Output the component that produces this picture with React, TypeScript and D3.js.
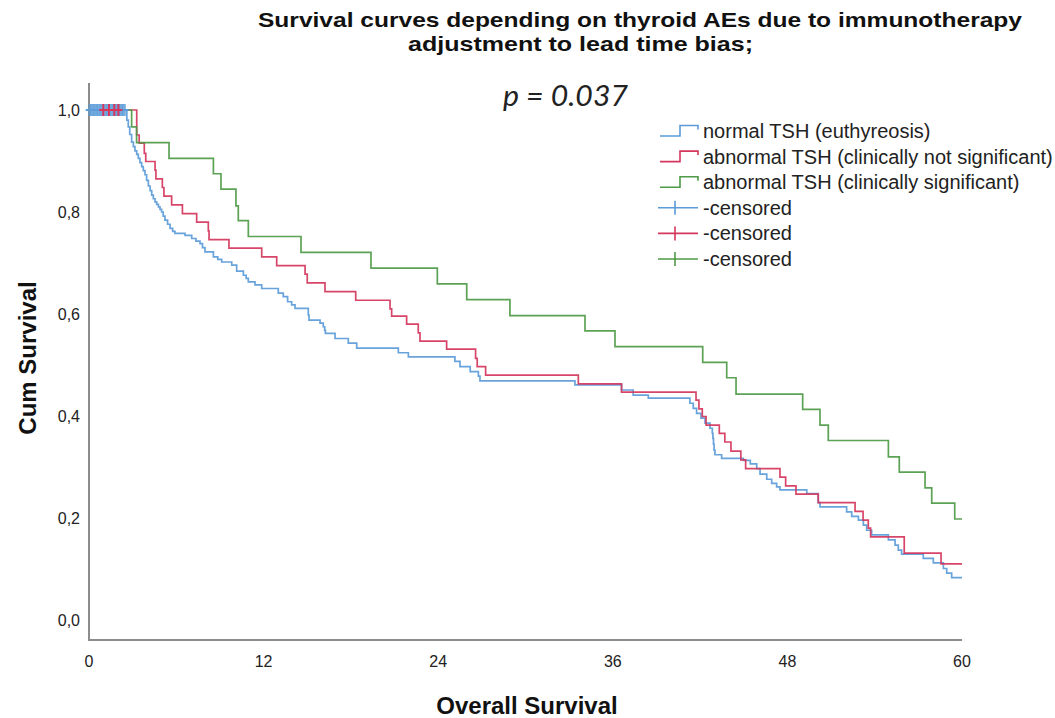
import React from "react";
import * as d3 from "d3";

// ---- Data ----
const END_TIME = 60;
const xTicks = [0, 12, 24, 36, 48, 60];
const yTicks = [0, 0.2, 0.4, 0.6, 0.8, 1.0];
const yTickLabels = ["0,0", "0,2", "0,4", "0,6", "0,8", "1,0"];

const seriesNames = [
  "normal TSH (euthyreosis)",
  "abnormal TSH (clinically not significant)",
  "abnormal TSH (clinically significant)",
];

// event times (months) and survival after each drop
const normalTimes = [2.6, 2.7, 2.8, 2.93, 3.05, 3.16, 3.28, 3.39, 3.5, 3.62, 3.73, 3.85, 3.96, 4.08, 4.2, 4.31, 4.42, 4.54, 4.65, 4.77, 4.88, 4.99, 5.1, 5.22, 5.4, 5.57, 5.75, 5.91, 6.6, 7.06, 7.35, 7.63, 7.8, 7.97, 8.55, 8.85, 9.12, 9.81, 10.15, 10.61, 10.8, 10.95, 11.41, 11.87, 13.01, 13.35, 13.65, 13.93, 14.16, 15.07, 15.12, 15.88, 16.1, 16.2, 16.25, 16.91, 17.82, 18.4, 21.26, 21.95, 25.15, 25.5, 26.2, 26.76, 26.87, 33.4, 36.6, 37.4, 38.44, 41.3, 41.53, 41.76, 42.06, 42.34, 42.68, 42.84, 42.88, 42.92, 42.96, 43.02, 43.48, 44.97, 45.45, 45.89, 46.12, 46.58, 46.92, 47.26, 47.49, 49.33, 50.12, 50.24, 52.07, 52.42, 52.88, 53.22, 53.45, 53.79, 54.94, 55.4, 55.62, 55.85, 57.34, 58.03, 58.72, 58.95, 59.29];
const normalSurv = [0.98, 0.967, 0.952, 0.937, 0.928, 0.92, 0.913, 0.905, 0.897, 0.889, 0.881, 0.873, 0.862, 0.851, 0.842, 0.833, 0.826, 0.82, 0.815, 0.81, 0.805, 0.8, 0.792, 0.784, 0.776, 0.768, 0.762, 0.758, 0.754, 0.748, 0.743, 0.738, 0.73, 0.722, 0.712, 0.707, 0.702, 0.696, 0.684, 0.676, 0.67, 0.663, 0.657, 0.65, 0.641, 0.634, 0.624, 0.618, 0.611, 0.598, 0.588, 0.582, 0.575, 0.568, 0.562, 0.552, 0.543, 0.533, 0.524, 0.516, 0.507, 0.497, 0.487, 0.478, 0.469, 0.461, 0.451, 0.441, 0.435, 0.425, 0.415, 0.405, 0.396, 0.386, 0.376, 0.366, 0.356, 0.345, 0.333, 0.324, 0.317, 0.313, 0.306, 0.297, 0.286, 0.276, 0.268, 0.261, 0.255, 0.248, 0.23, 0.222, 0.212, 0.203, 0.196, 0.186, 0.176, 0.167, 0.157, 0.147, 0.137, 0.129, 0.121, 0.112, 0.101, 0.092, 0.083];

const notSigTimes = [3.28, 3.45, 3.8, 3.9, 4.54, 4.6, 5.04, 5.15, 5.68, 6.42, 7.4, 8.2, 8.25, 9.62, 11.87, 12.9, 14.85, 15.0, 16.22, 18.33, 20.69, 20.8, 21.83, 22.63, 22.75, 24.58, 26.57, 26.68, 27.26, 33.63, 36.6, 41.72, 41.92, 42.15, 42.41, 43.32, 43.7, 44.12, 44.8, 45.13, 47.49, 47.88, 48.59, 50.12, 52.65, 53.2, 53.56, 53.72, 56.03, 58.56];
const notSigSurv = [0.951, 0.935, 0.915, 0.899, 0.882, 0.865, 0.848, 0.831, 0.814, 0.797, 0.78, 0.763, 0.746, 0.729, 0.712, 0.695, 0.678, 0.661, 0.644, 0.627, 0.61, 0.596, 0.58, 0.563, 0.547, 0.531, 0.513, 0.497, 0.48, 0.463, 0.447, 0.431, 0.414, 0.399, 0.382, 0.366, 0.349, 0.331, 0.314, 0.297, 0.28, 0.263, 0.247, 0.23, 0.213, 0.196, 0.18, 0.163, 0.131, 0.11];

const sigTimes = [2.93, 3.27, 5.5, 8.55, 9.07, 10.1, 10.26, 10.95, 14.57, 19.38, 23.94, 25.96, 28.93, 34.09, 36.15, 42.18, 43.83, 44.47, 49.05, 50.24, 50.81, 54.94, 55.69, 57.46, 57.92, 59.5];
const sigSurv = [0.967, 0.936, 0.905, 0.875, 0.845, 0.812, 0.783, 0.752, 0.721, 0.69, 0.659, 0.628, 0.597, 0.567, 0.536, 0.505, 0.475, 0.443, 0.413, 0.382, 0.352, 0.32, 0.29, 0.259, 0.229, 0.198];

// censored observations (time)
const normalCensored = [0.05, 0.15, 0.25, 0.35, 0.45, 0.55, 0.65, 0.75, 0.85, 0.95, 1.05, 1.15, 1.25, 1.35, 1.45, 1.55, 1.65, 1.75, 1.85, 1.95, 2.05, 2.15, 2.25, 2.35, 2.45];
const notSigCensored = [0.98, 1.37, 1.74, 2.02];
const sigCensored: number[] = [];

const colors = ["#5b9bd8", "#d4365c", "#4e9a46"];

const W = 1055;
const H = 718;

export default function App() {
  const x = d3.scaleLinear().domain([0, 60]).range([89, 962]);
  const y = d3.scaleLinear().domain([0, 1]).range([620, 110]);

  const line = d3
    .line<[number, number]>()
    .x((d) => x(d[0]))
    .y((d) => y(d[1]))
    .curve(d3.curveStepAfter);

  const mk = (times: number[], surv: number[]) => {
    const pts: [number, number][] = [[0, 1]];
    times.forEach((t, i) => pts.push([t, surv[i]]));
    pts.push([END_TIME, surv[surv.length - 1]]);
    return line(pts) || "";
  };

  const series = [
    { times: normalTimes, surv: normalSurv, cens: normalCensored },
    { times: notSigTimes, surv: notSigSurv, cens: notSigCensored },
    { times: sigTimes, surv: sigSurv, cens: sigCensored },
  ];

  const survAt = (times: number[], surv: number[], t: number) => {
    let s = 1;
    for (let i = 0; i < times.length; i++) if (times[i] <= t) s = surv[i];
    return s;
  };

  const legendRows = [131, 156.6, 182.2, 207.8, 233.4, 259];
  const font = "'Liberation Sans', Arial, sans-serif";

  return (
    <svg
      width={W}
      height={H}
      style={{ position: "absolute", left: 0, top: 0, background: "#fff" }}
      fontFamily={font}
    >
      <rect x={0} y={0} width={W} height={H} fill="#fff" />
      {/* Title */}
      <text x={258} y={26.5} fontWeight="bold" fontSize={21} fill="#111" textLength={764} lengthAdjust="spacingAndGlyphs">
        Survival curves depending on thyroid AEs due to immunotherapy
      </text>
      <text x={408} y={50.5} fontWeight="bold" fontSize={21} fill="#111" textLength={345} lengthAdjust="spacingAndGlyphs">
        adjustment to lead time bias;
      </text>
      <text x={503} y={106} fontFamily="Lato, 'Open Sans', sans-serif" fontStyle="italic" fontSize={29} fill="#222" textLength={125} lengthAdjust="spacingAndGlyphs">
        p = 0.037
      </text>

      {/* Axes */}
      <line x1={89} y1={83} x2={89} y2={641} stroke="#8c8c8c" strokeWidth={2} />
      <line x1={88} y1={640} x2={962} y2={640} stroke="#8c8c8c" strokeWidth={2} />
      {yTicks.map((v, i) => (
        <text key={"yt" + i} x={80} y={y(v) + 5.5} textAnchor="end" fontSize={16} fill="#222">
          {yTickLabels[i]}
        </text>
      ))}
      {xTicks.map((v) => (
        <text key={"xt" + v} x={x(v)} y={667} textAnchor="middle" fontSize={16} fill="#222">
          {v}
        </text>
      ))}
      <text
        transform={`translate(35.5,358) rotate(-90)`}
        textAnchor="middle"
        fontWeight="bold"
        fontSize={24}
        fill="#111"
      >
        Cum Survival
      </text>
      <text x={527} y={714} textAnchor="middle" fontWeight="bold" fontSize={24} fill="#111">
        Overall Survival
      </text>

      {/* Curves */}
      {series.map((s, i) => (
        <path key={"c" + i} d={mk(s.times, s.surv)} fill="none" stroke={colors[i]} strokeWidth={1.7} strokeOpacity={0.92} />
      ))}
      {/* Censor marks */}
      {series.map((s, i) =>
        s.cens.map((t, j) => {
          const sv = survAt(s.times, s.surv, t);
          return (
            <g key={"m" + i + "-" + j}>
              <line
                x1={x(t)}
                x2={x(t)}
                y1={y(sv) - 6}
                y2={y(sv) + 6}
                stroke={colors[i]}
                strokeWidth={i === 0 ? 2.5 : 2}
                strokeOpacity={i === 0 ? 0.75 : 1}
              />
              <line x1={x(t) - 4} x2={x(t) + 4} y1={y(sv)} y2={y(sv)} stroke={colors[i]} strokeWidth={2} />
            </g>
          );
        })
      )}

      {/* Legend */}
      {seriesNames.map((name, i) => {
        const cy = legendRows[i];
        const pts: [number, number][] = [
          [660, cy + 5],
          [680, cy + 5],
          [680, cy - 5.5],
          [698, cy - 5.5],
          [698, cy - 1.5],
        ];
        return (
          <g key={"lg" + i}>
            <path d={d3.line()(pts) || ""} fill="none" stroke={colors[i]} strokeWidth={1.6} />
            <text x={703} y={cy + 7} fontSize={20} fill="#222">
              {name}
            </text>
          </g>
        );
      })}
      {colors.map((c, i) => {
        const cy = legendRows[3 + i];
        return (
          <g key={"lc" + i}>
            <line x1={658} x2={698} y1={cy} y2={cy} stroke={c} strokeWidth={1.6} />
            <line x1={675} x2={675} y1={cy - 7} y2={cy + 7} stroke={c} strokeWidth={1.6} />
            <text x={703} y={cy + 7} fontSize={20} fill="#222">
              -censored
            </text>
          </g>
        );
      })}
    </svg>
  );
}
